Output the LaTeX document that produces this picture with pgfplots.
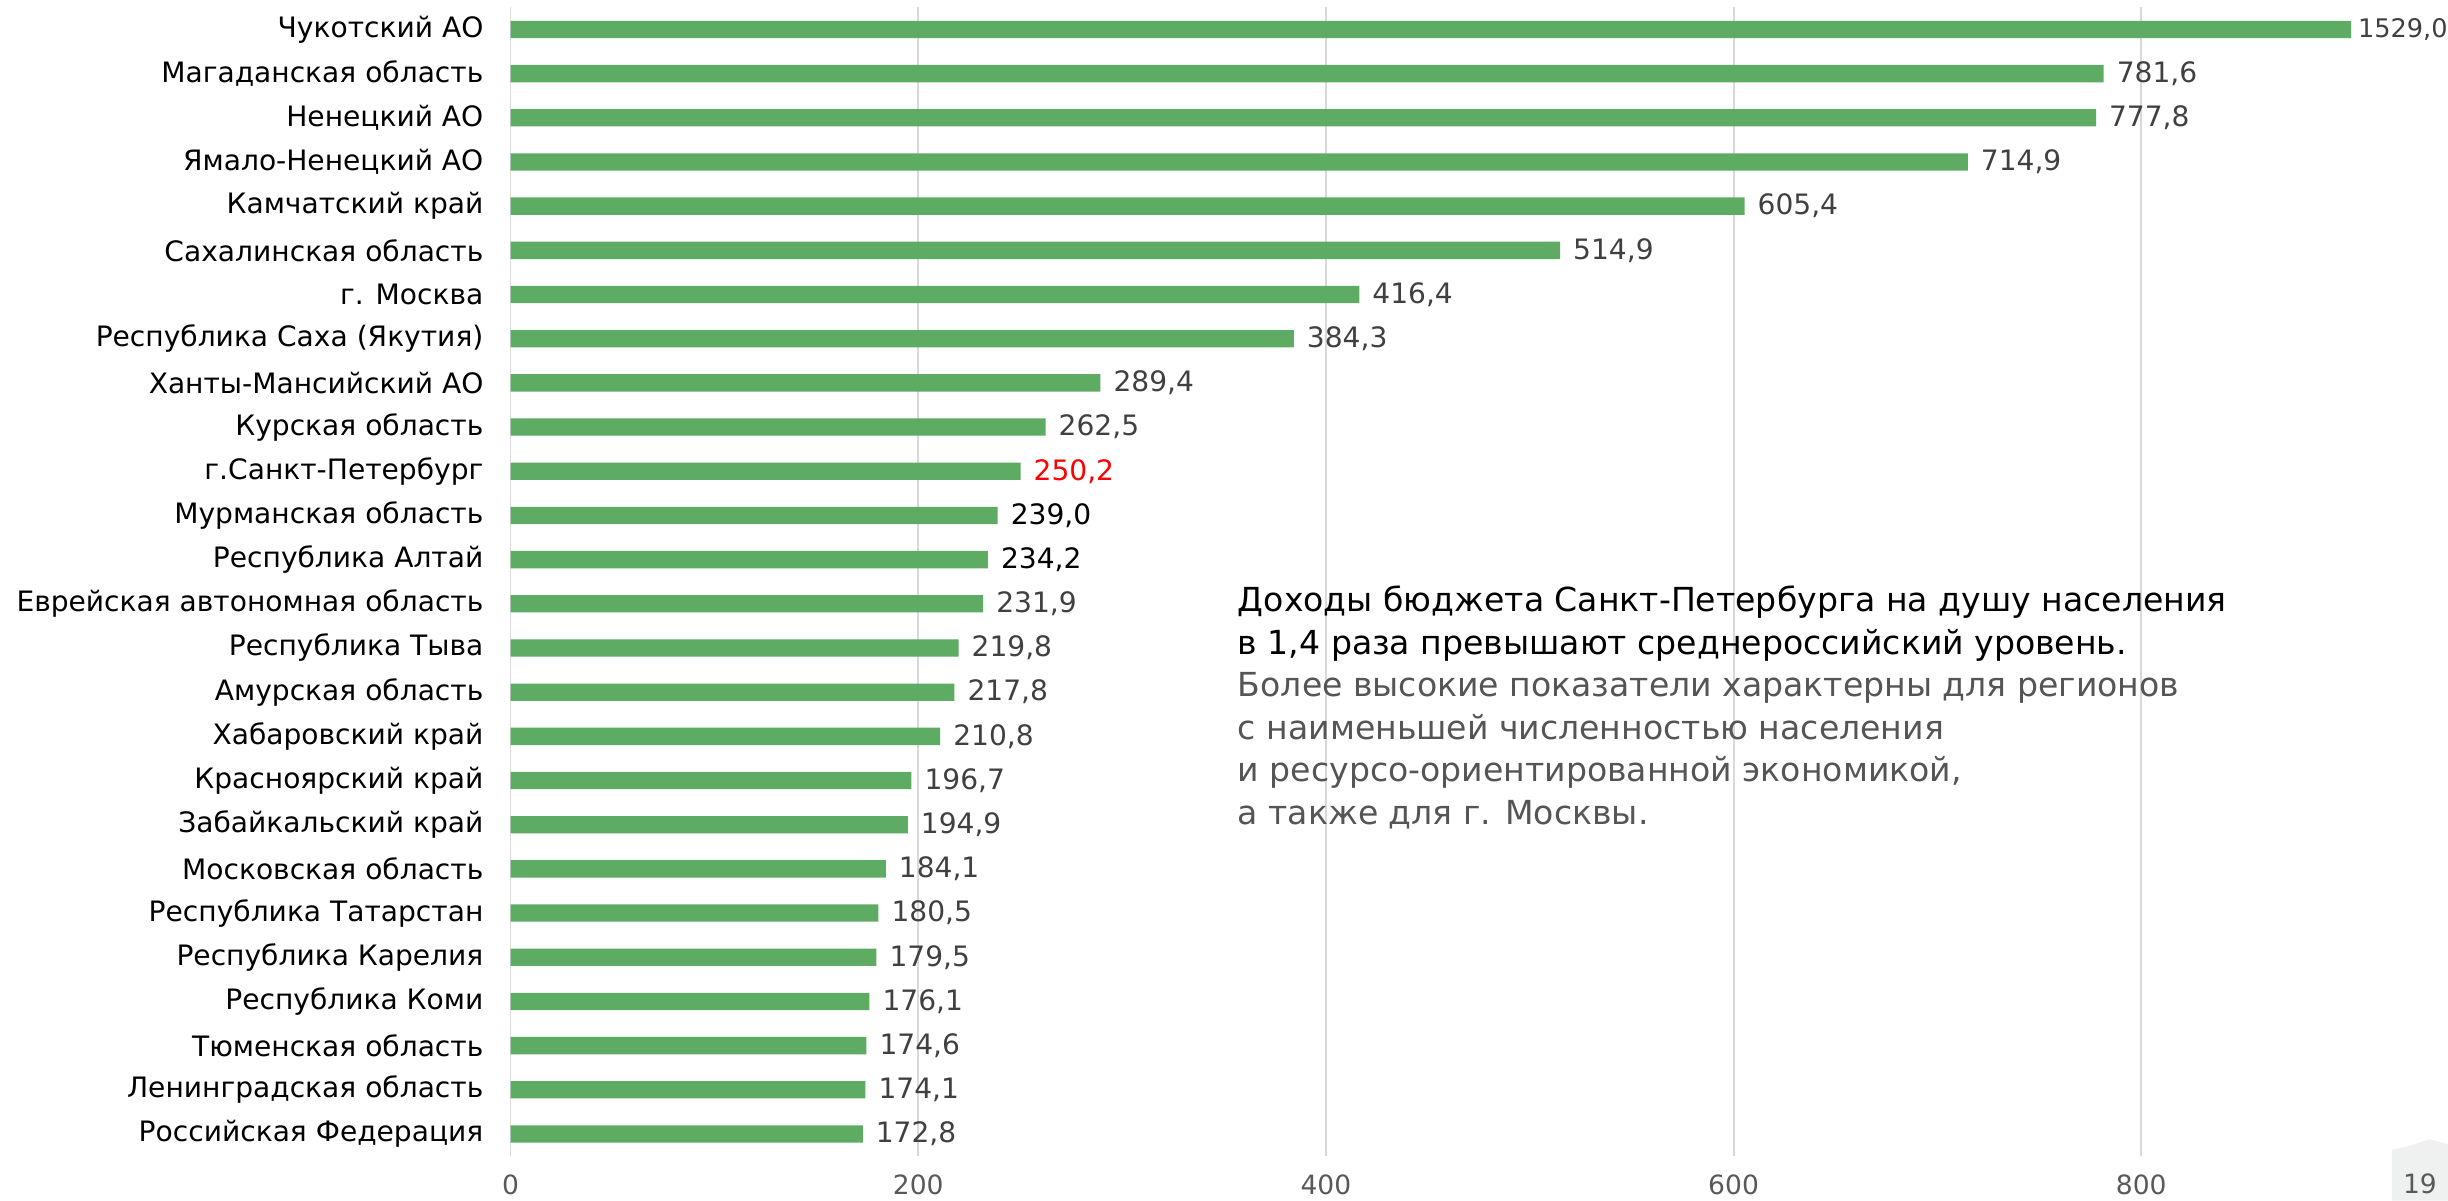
\documentclass[border=0pt]{standalone}
\usepackage{fontspec}
\setmainfont{DejaVu Sans}
\usepackage{pgfplots}
\usepackage{pgfplotstable}
\pgfplotsset{compat=1.18}

\definecolor{bargreen}{RGB}{94,171,100}
\definecolor{labgray}{RGB}{64,64,64}
\definecolor{tickgray}{RGB}{89,89,89}
\definecolor{gridgray}{RGB}{217,217,217}
\definecolor{notegray}{RGB}{85,85,85}
\definecolor{pagegray}{RGB}{239,240,240}

% доходы бюджета на душу населения, тыс. руб.
\pgfplotstableread[col sep=semicolon]{
y;v;lab;name
0;1529.0;\hspace{-2pt}{\fontsize{8.2}{10}\selectfont 1529,0};Чукотский АО
1;781.6;781,6;Магаданская область
2;777.8;777,8;Ненецкий АО
3;714.9;714,9;Ямало-Ненецкий АО
4;605.4;605,4;Камчатский край
5;514.9;514,9;Сахалинская область
6;416.4;416,4;г. Москва
7;384.3;384,3;Республика Саха (Якутия)
8;289.4;289,4;Ханты-Мансийский АО
9;262.5;262,5;Курская область
10;250.2;\textcolor{red}{250,2};г.Санкт-Петербург\hspace{0.35em}
11;239.0;\textcolor{black}{239,0};Мурманская область
12;234.2;\textcolor{black}{234,2};Республика Алтай
13;231.9;231,9;Еврейская автономная область
14;219.8;219,8;Республика Тыва
15;217.8;217,8;Амурская область
16;210.8;210,8;Хабаровский край
17;196.7;196,7;Красноярский край\hspace{0.35em}
18;194.9;194,9;Забайкальский край
19;184.1;184,1;Московская область
20;180.5;180,5;Республика Татарстан
21;179.5;179,5;Республика Карелия
22;176.1;176,1;Республика Коми
23;174.6;174,6;Тюменская область
24;174.1;174,1;Ленинградская область
25;172.8;172,8;Российская Федерация
}\data

\begin{document}
\begin{tikzpicture}
\useasboundingbox (0,0) rectangle (784pt,384.5pt);
\begin{axis}[
    at={(163.5pt,14.25pt)}, anchor=south west,
    scale only axis, width=589.5pt, height=367.9pt,
    xbar, bar width=5.55pt,
    xmin=0, xmax=903, ymin=-0.5, ymax=25.5, y dir=reverse,
    axis line style={draw=none},
    major tick length=0pt,
    xtick={0,200,400,600,800},
    xmajorgrids, grid style={gridgray, line width=0.6pt},
    ytick={0,...,25},
    yticklabels from table={\data}{name},
    yticklabel style={font=\fontsize{9}{11}\selectfont, text=black, inner sep=0pt, xshift=-8.5pt},
    xticklabel style={font=\fontsize{8.5}{10}\selectfont, text=tickgray, inner sep=0pt, yshift=-5.8pt},
    /pgf/number format/assume math mode=true,
    clip=false,
    nodes near coords, point meta=explicit symbolic,
    every node near coord/.append style={font=\fontsize{9}{11}\selectfont, text=labgray, anchor=west, inner sep=0pt, xshift=4pt},
]
\addplot[fill=bargreen, draw=none, x filter/.expression={min(x,903)}] table[x=v, y=y, meta=lab] {\data};
\end{axis}
\node[anchor=north west, inner sep=0pt, align=left, font=\fontsize{10.6}{13.6}\selectfont] at (396.25pt,197pt)
  {Доходы бюджета Санкт-Петербурга на душу населения\\
   в 1,4 раза превышают среднероссийский уровень.\\
   \color{notegray}Более высокие показатели характерны для регионов\\
   \color{notegray}с наименьшей численностью населения\\
   \color{notegray}и ресурсо-ориентированной экономикой,\\
   \color{notegray}а также для г. Москвы.};
\fill[pagegray] (766pt,0) -- (766pt,16.2pt) .. controls (772pt,17.6pt) .. (778.25pt,19.7pt) -- (784pt,18pt) -- (784pt,0) -- cycle;
\node[text=tickgray, font=\fontsize{8.5}{10}\selectfont, inner sep=0pt] at (775pt,5.5pt) {19};
\end{tikzpicture}
\end{document}
